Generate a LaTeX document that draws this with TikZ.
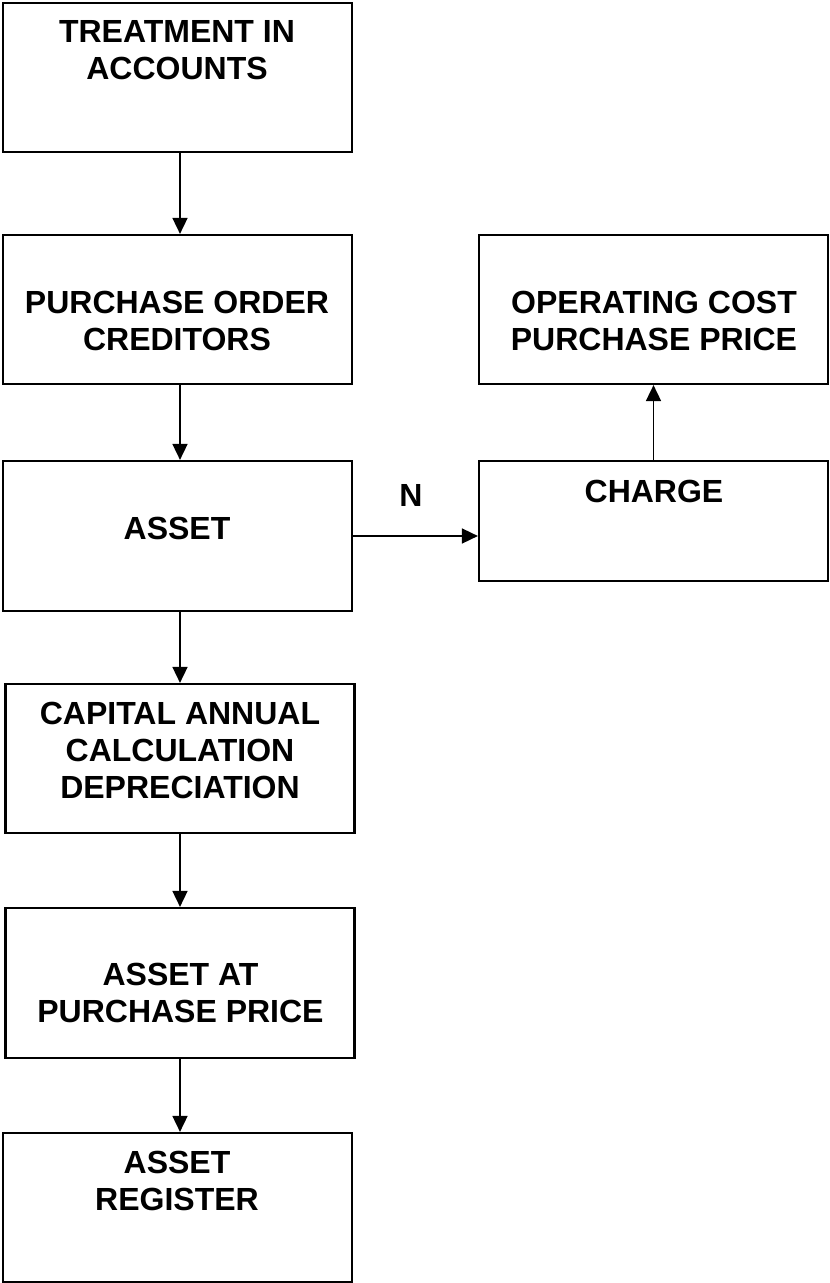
\documentclass[tikz,border=0pt]{standalone}
\usepackage{fontspec}
\setmainfont{Liberation Sans}
\usetikzlibrary{arrows.meta}
\begin{document}
\begin{tikzpicture}[x=0.5pt,y=-0.5pt,
  box/.style={draw,line width=1.1pt,minimum width=174.5pt,inner sep=0pt},
  lbl/.style={align=center,inner sep=0pt,font=\bfseries\fontsize{16}{18.5}\selectfont},
  arr/.style={line width=0.85pt,-{Triangle[length=8pt,width=7.5pt]}}]
  \useasboundingbox (0,0) rectangle (829,1283);
  % left column
  \node[box,minimum height=74.5pt] (treat) at (177.25,77.25) {};
  \node[box,minimum height=74.5pt] (po) at (177.25,309.5) {};
  \node[box,minimum height=75pt] (asset) at (177.25,536) {};
  \node[box,minimum height=74.5pt] (cap) at (180,758.5) {};
  \node[box,minimum height=75pt] (app) at (180,983) {};
  \node[box,minimum height=74.5pt] (reg) at (177.25,1207.5) {};
  % right column
  \node[box,minimum height=74.5pt] (oc) at (653.5,309.5) {};
  \node[box,minimum height=60pt] (charge) at (653.5,521) {};
  \node[lbl] (treat-t) at (177,50) {TREATMENT IN\\ACCOUNTS};
  \node[lbl] (po-t) at (177,320.5) {PURCHASE ORDER\\CREDITORS};
  \node[lbl] (asset-t) at (177,528.5) {ASSET};
  \node[lbl] (cap-t) at (180,750.5) {CAPITAL ANNUAL\\CALCULATION\\DEPRECIATION};
  \node[lbl] (app-t) at (180.5,993) {ASSET AT\\PURCHASE PRICE};
  \node[lbl] (reg-t) at (177,1181) {ASSET\\REGISTER};
  \node[lbl] (oc-t) at (654,320.5) {OPERATING COST\\PURCHASE PRICE};
  \node[lbl] (charge-t) at (654,491.5) {CHARGE};
  \node[lbl] (n) at (411,495) {N};
  \coordinate (spine) at (180,0);
  \draw[arr] (treat.south -| spine) -- (po.north -| spine);
  \draw[arr] (po.south -| spine) -- (asset.north -| spine);
  \draw[arr] (asset.south -| spine) -- (cap.north -| spine);
  \draw[arr] (cap.south -| spine) -- (app.north -| spine);
  \draw[arr] (app.south -| spine) -- (reg.north -| spine);
  \draw[arr] (asset.east) -- (asset.east -| charge.west);
  \draw[arr] (charge) -- (oc);
\end{tikzpicture}
\end{document}
